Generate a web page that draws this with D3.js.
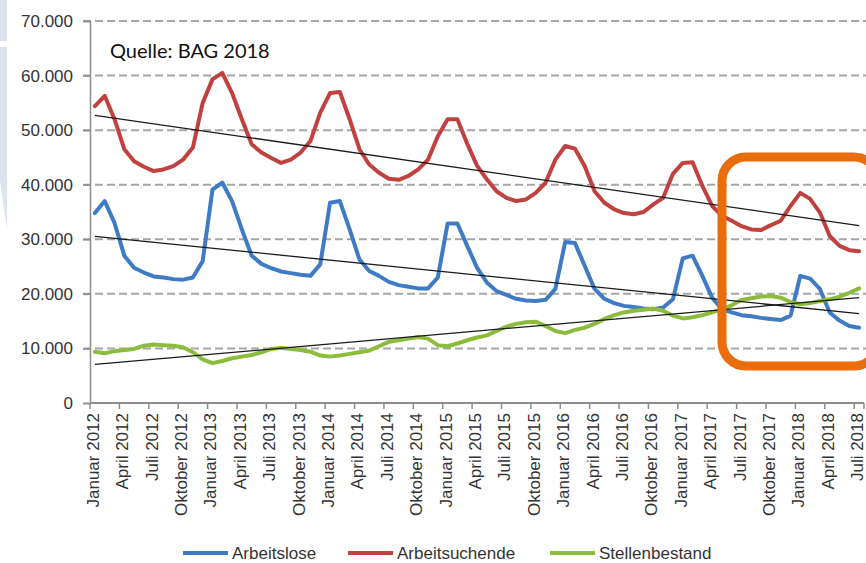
<!DOCTYPE html>
<html>
<head>
<meta charset="utf-8">
<script src="https://cdn.jsdelivr.net/npm/d3@7"></script>
<style>
  html, body { margin: 0; padding: 0; background: #fff; overflow: hidden; }
  #chart { width: 866px; height: 563px; }
</style>
</head>
<body>
<div id="chart"></div>
<script>
// ─── Data ───
const monthNames = ['Januar', 'Februar', 'März', 'April', 'Mai', 'Juni',
  'Juli', 'August', 'September', 'Oktober', 'November', 'Dezember'];
const startYear = 2012;
const monthCount = 79; // Januar 2012 .. Juli 2018

const arbeitslose = [
  34800, 37000, 33000, 27000, 24800, 23900, 23200, 23000, 22700, 22600, 23000, 26000,
  39100, 40400, 37000, 31800, 27000, 25500, 24700, 24100, 23800, 23500, 23300, 25400,
  36700, 37000, 31800, 26300, 24200, 23300, 22200, 21600, 21300, 21000, 21000, 23000,
  32900, 32900, 28800, 24800, 22100, 20500, 19800, 19100, 18800, 18700, 18900, 20900,
  29500, 29300, 25100, 20900, 19100, 18300, 17800, 17600, 17300, 17200, 17500, 19000,
  26500, 27000, 23300, 19300, 17200, 16600, 16100, 15900, 15600, 15400, 15200, 16000,
  23300, 22800, 20900, 16600, 15100, 14100, 13800
];
const arbeitsuchende = [
  54400, 56300, 52000, 46500, 44300, 43300, 42500, 42800, 43400, 44600, 46800, 55000,
  59300, 60500, 56800, 52000, 47400, 45900, 44900, 44000, 44600, 45900, 48000, 53200,
  56800, 57000, 52000, 46500, 43700, 42200, 41100, 40900, 41600, 42800, 44600, 48900,
  52000, 52000, 47500, 43500, 41000, 38800, 37600, 37000, 37300, 38500, 40400, 44600,
  47100, 46600, 43400, 38800, 36700, 35500, 34800, 34600, 35000, 36400, 37600, 42000,
  44000, 44100, 39800, 36100, 34300, 33400, 32400, 31800, 31700, 32600, 33400, 36100,
  38500, 37400, 34900, 30600, 28800, 28000, 27800
];
const stellenbestand = [
  9400, 9100, 9500, 9700, 9900, 10500, 10700, 10600, 10500, 10200, 9300, 8000,
  7300, 7700, 8200, 8500, 8800, 9300, 9900, 10100, 9900, 9700, 9400, 8700,
  8500, 8700, 9000, 9300, 9600, 10400, 11200, 11500, 11800, 12100, 11800, 10600,
  10400, 10900, 11500, 12000, 12400, 13200, 14000, 14500, 14800, 14900, 14100, 13200,
  12800, 13400, 13800, 14500, 15400, 16100, 16600, 16900, 17100, 17300, 16900, 16000,
  15500, 15700, 16100, 16600, 17200, 17900, 18900, 19200, 19500, 19600, 19300, 18500,
  18100, 18300, 18700, 19000, 19500, 20200, 21000
];
const yTickValues = [0, 10000, 20000, 30000, 40000, 50000, 60000, 70000];
const seriesNames = ['Arbeitslose', 'Arbeitsuchende', 'Stellenbestand'];
const sourceNote = 'Quelle: BAG 2018';

const categories = d3.range(monthCount).map(i =>
  monthNames[i % 12] + ' ' + (startYear + Math.floor(i / 12)));

function createJobChart(containerId) {
  const cfg = {
    w: 866,
    h: 563,
    left: 90,
    right: 864,
    top: 21,
    bottom: 403,
    colors: ['#3f7bc4', '#c0413f', '#8dbb3c'],
    axisColor: '#8c8c8c',
    gridColor: '#a6a6a6',
    labelColor: '#333333',
    font: "'Liberation Sans', Arial, sans-serif",
  };

  const svg = d3.select(containerId)
    .append('svg')
    .attr('width', cfg.w)
    .attr('height', cfg.h);

  // light blue slide decoration on the left edge
  svg.append('rect')
    .attr('x', 0).attr('y', 0).attr('width', 7).attr('height', 41)
    .attr('fill', '#dbe4f0');
  svg.append('path')
    .attr('d', 'M0,47 L7,47 L7,230 L0,180 Z')
    .attr('fill', '#dbe4f0');

  // Scales
  const x = d3.scaleBand()
    .domain(categories)
    .range([cfg.left, cfg.right])
    .padding(0);
  const cx = c => x(c) + x.bandwidth() / 2;

  const y = d3.scaleLinear()
    .domain([0, 70000])
    .range([cfg.bottom, cfg.top]);

  const fmt = v => d3.format(',')(v).replace(/,/g, '.');

  // Grid lines (dashed)
  yTickValues.filter(v => v > 0).forEach(v => {
    svg.append('line')
      .attr('x1', cfg.left - 7).attr('x2', cfg.w)
      .attr('y1', y(v)).attr('y2', y(v))
      .attr('stroke', cfg.gridColor)
      .attr('stroke-width', 2)
      .attr('stroke-dasharray', '8,4');
  });

  // Y axis
  svg.append('g')
    .attr('transform', `translate(${cfg.left},0)`)
    .call(d3.axisLeft(y).tickValues(yTickValues).tickSize(7).tickPadding(10).tickFormat(fmt))
    .call(g => g.select('.domain').attr('stroke', cfg.axisColor).attr('stroke-width', 1.5))
    .call(g => g.selectAll('.tick line').attr('stroke', cfg.axisColor).attr('stroke-width', 1.5))
    .call(g => g.selectAll('.tick text')
      .attr('fill', cfg.labelColor)
      .attr('font-family', cfg.font)
      .attr('font-size', '17px'));

  // X axis: tick marks on band boundaries, labels on band centres
  const labelled = categories.filter((c, i) => i % 3 === 0);
  const xAxis = svg.append('g');
  xAxis.append('line')
    .attr('x1', cfg.left).attr('x2', cfg.right)
    .attr('y1', cfg.bottom).attr('y2', cfg.bottom)
    .attr('stroke', cfg.axisColor)
    .attr('stroke-width', 2);
  labelled.concat([null]).forEach(c => {
    const tx = c === null ? cfg.right : x(c);
    xAxis.append('line')
      .attr('x1', tx).attr('x2', tx)
      .attr('y1', cfg.bottom).attr('y2', cfg.bottom + 6)
      .attr('stroke', cfg.axisColor)
      .attr('stroke-width', 1.5);
  });
  labelled.forEach(c => {
    xAxis.append('text')
      .attr('transform', `translate(${cx(c) - 1.5},${cfg.bottom + 10}) rotate(-90)`)
      .attr('text-anchor', 'end')
      .attr('dominant-baseline', 'central')
      .attr('fill', cfg.labelColor)
      .attr('font-family', cfg.font)
      .attr('font-size', '17px')
      .text(c);
  });

  // Series lines
  const allSeries = [arbeitslose, arbeitsuchende, stellenbestand];
  const line = d3.line()
    .x((d, i) => cx(categories[i]))
    .y(d => y(d));

  allSeries.forEach((s, k) => {
    svg.append('path')
      .datum(s)
      .attr('d', line)
      .attr('fill', 'none')
      .attr('stroke', cfg.colors[k])
      .attr('stroke-width', 4)
      .attr('stroke-linejoin', 'round')
      .attr('stroke-linecap', 'round');
  });

  // Linear trend lines (least squares over month index)
  allSeries.forEach(s => {
    const n = s.length;
    const mx = d3.mean(d3.range(n));
    const my = d3.mean(s);
    let sxy = 0, sxx = 0;
    s.forEach((v, i) => { sxy += (i - mx) * (v - my); sxx += (i - mx) * (i - mx); });
    const b = sxy / sxx;
    const a = my - b * mx;
    svg.append('line')
      .attr('x1', cx(categories[0])).attr('y1', y(a))
      .attr('x2', cx(categories[n - 1])).attr('y2', y(a + b * (n - 1)))
      .attr('stroke', '#1a1a1a')
      .attr('stroke-width', 1.3);
  });

  // Source note
  svg.append('text')
    .attr('x', 110).attr('y', 58)
    .attr('fill', '#111')
    .attr('font-family', 'Lato, sans-serif')
    .attr('font-size', '20px')
    .text(sourceNote);

  // Highlight box (runs off the right edge)
  svg.append('rect')
    .attr('x', 722).attr('y', 157)
    .attr('width', 156).attr('height', 209)
    .attr('rx', 24).attr('ry', 24)
    .attr('fill', 'none')
    .attr('stroke', '#ea6d0c')
    .attr('stroke-width', 9);

  // Legend
  const legendX = [183, 348, 550];
  seriesNames.forEach((name, k) => {
    const lg = svg.append('g').attr('transform', `translate(${legendX[k]},553)`);
    lg.append('line')
      .attr('x1', 0).attr('x2', 45)
      .attr('stroke', cfg.colors[k])
      .attr('stroke-width', 4);
    lg.append('text')
      .attr('x', 49)
      .attr('dominant-baseline', 'central')
      .attr('fill', cfg.labelColor)
      .attr('font-family', cfg.font)
      .attr('font-size', '17px')
      .text(name);
  });
}

createJobChart('#chart');
</script>
</body>
</html>
